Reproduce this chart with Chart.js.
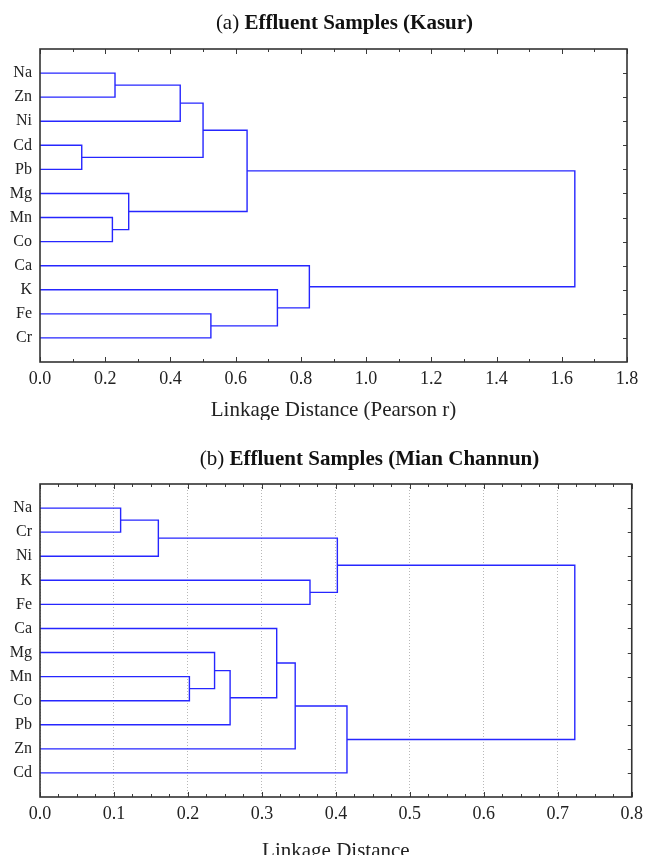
<!DOCTYPE html>
<html>
<head>
<meta charset="utf-8">
<script src="https://cdn.jsdelivr.net/npm/chart.js@4/dist/chart.umd.min.js"></script>
<style>
body{margin:0;background:#fff;width:649px;height:855px;overflow:hidden;font-family:"Liberation Serif","Times New Roman",serif;}
.box{position:relative;width:649px;overflow:hidden;}
.ttl{position:absolute;width:649px;text-align:center;font-size:21px;line-height:24px;color:#111;white-space:nowrap;}
canvas{display:block;}
</style>
</head>
<body>
<div class="box" style="height:420px">
  <div class="ttl" style="top:10px;left:20px">(a) <b>Effluent Samples (Kasur)</b></div>
  <canvas id="chartA" width="649" height="420"></canvas>
</div>
<div class="box" style="height:435px">
  <div class="ttl" style="top:26px;left:45px">(b) <b>Effluent Samples (Mian Channun)</b></div>
  <canvas id="chartB" width="649" height="435"></canvas>
</div>
<script>
// (a) Kasur - leaf order top to bottom
var leavesA = ['Na','Zn','Ni','Cd','Pb','Mg','Mn','Co','Ca','K','Fe','Cr'];
// merge steps: left / right child (index < 12 = leaf, 12+k = merge k), linkage distance
var leftA   = [3, 6, 0, 5, 14, 16, 10, 17, 9, 8, 19];
var rightA  = [4, 7, 1, 13, 2, 12, 11, 15, 18, 20, 21];
var heightA = [0.128, 0.222, 0.23, 0.272, 0.43, 0.50, 0.524, 0.635, 0.728, 0.826, 1.64];
var ticksA  = [0, 0.2, 0.4, 0.6, 0.8, 1.0, 1.2, 1.4, 1.6, 1.8];

// (b) Mian Channun
var leavesB = ['Na','Cr','Ni','K','Fe','Ca','Mg','Mn','Co','Pb','Zn','Cd'];
var leftB   = [0, 12, 7, 6, 15, 5, 17, 3, 13, 18, 20];
var rightB  = [1, 2, 8, 14, 9, 16, 10, 4, 19, 11, 21];
var heightB = [0.109, 0.160, 0.202, 0.236, 0.257, 0.320, 0.345, 0.365, 0.402, 0.415, 0.723];
var ticksB  = [0, 0.1, 0.2, 0.3, 0.4, 0.5, 0.6, 0.7, 0.8];

var lineColor = 'rgb(38,38,255)';

// build the link segments of a dendrogram
function dendroSets(leaves, left, right, heights){
    var n = leaves.length;
    var pos = [], hgt = [];
    for (var i = 0; i < n; i++){ pos.push(i + 1); hgt.push(0); }
    var sets = [];
    for (var k = 0; k < heights.length; k++){
        var a = left[k], b = right[k], h = heights[k];
        sets.push({
            data: [{x: hgt[a], y: pos[a]}, {x: h, y: pos[a]}, {x: h, y: pos[b]}, {x: hgt[b], y: pos[b]}],
            showLine: true, borderColor: lineColor, borderWidth: 1.4,
            pointRadius: 0, fill: false, tension: 0
        });
        pos.push((pos[a] + pos[b]) / 2);
        hgt.push(h);
    }
    return sets;
}

// box frame + inward ticks like the original plot
var frameTicks = {
    id: 'frameTicks',
    afterDraw: function(chart, args, opts){
        var ctx = chart.ctx, a = chart.chartArea;
        var xs = chart.scales.x, ys = chart.scales.y;
        ctx.save();
        ctx.strokeStyle = '#3a3a3a';
        ctx.lineWidth = 1;
        var n = Math.round((xs.max - xs.min) / opts.minorStep);
        var per = Math.round(opts.majorStep / opts.minorStep);
        for (var i = 0; i <= n; i++){
            var px = Math.round(xs.getPixelForValue(xs.min + i * opts.minorStep)) + 0.5;
            var len = (i % per == 0) ? 5 : 3;
            ctx.beginPath();
            ctx.moveTo(px, a.bottom); ctx.lineTo(px, a.bottom - len);
            ctx.moveTo(px, a.top); ctx.lineTo(px, a.top + len);
            ctx.stroke();
        }
        for (var j = 0; j < opts.rows; j++){
            var py = Math.round(ys.getPixelForValue(j + 1)) + 0.5;
            ctx.beginPath();
            ctx.moveTo(a.right, py); ctx.lineTo(a.right - 4, py);
            ctx.stroke();
        }
        ctx.lineWidth = 1.6;
        ctx.strokeStyle = '#333';
        ctx.strokeRect(a.left, a.top, a.right - a.left, a.bottom - a.top);
        ctx.restore();
    }
};

function makeChart(id, leaves, left, right, heights, tickVals, xTitle, pad, dotted, minorStep, titleShift){
    var ctx = document.getElementById(id);
    return new Chart(ctx, {
        type: 'scatter',
        data: { datasets: dendroSets(leaves, left, right, heights) },
        options: {
            responsive: false,
            animation: false,
            layout: { padding: pad },
            plugins: {
                legend: { display: false },
                tooltip: { enabled: false },
                frameTicks: { minorStep: minorStep, majorStep: tickVals[1] - tickVals[0], rows: leaves.length }
            },
            scales: {
                x: {
                    type: 'linear',
                    min: tickVals[0], max: tickVals[tickVals.length - 1],
                    afterBuildTicks: function(s){ s.ticks = tickVals.map(function(v){ return {value: v}; }); },
                    afterFit: function(s){ s.height = 58; },
                    ticks: {
                        padding: 6, color: '#222', maxRotation: 0,
                        font: { family: 'Liberation Serif', size: 18 },
                        callback: function(v){ return Number(v).toFixed(1); }
                    },
                    grid: dotted ? { color: '#b8b8b8', lineWidth: 1, drawTicks: false } : { display: false, drawTicks: false },
                    border: { display: false, dash: dotted ? [1,2] : [] },
                    title: {
                        display: true, text: xTitle, color: '#222',
                        font: { family: 'Liberation Serif', size: 21, lineHeight: 1 },
                        padding: { top: 0, bottom: titleShift }
                    }
                },
                y: {
                    type: 'linear', min: 0, max: leaves.length + 1, reverse: true,
                    afterBuildTicks: function(s){ s.ticks = leaves.map(function(l, i){ return {value: i + 1}; }); },
                    afterFit: function(s){ s.width = 40; },
                    ticks: {
                        padding: 8, color: '#222',
                        font: { family: 'Liberation Serif', size: 16 },
                        callback: function(v){ return leaves[Math.round(v) - 1]; }
                    },
                    grid: { display: false, drawTicks: false },
                    border: { display: false }
                }
            }
        },
        plugins: [frameTicks]
    });
}

Chart.defaults.font.family = 'Liberation Serif';

makeChart('chartA', leavesA, leftA, rightA, heightA, ticksA,
    'Linkage Distance (Pearson r)', { top: 49, right: 22, left: 0, bottom: 0 }, false, 0.1, -1);

makeChart('chartB', leavesB, leftB, rightB, heightB, ticksB,
    'Linkage Distance', { top: 64, right: 17, left: 0, bottom: 0 }, true, 0.025, -7);
</script>
</body>
</html>
